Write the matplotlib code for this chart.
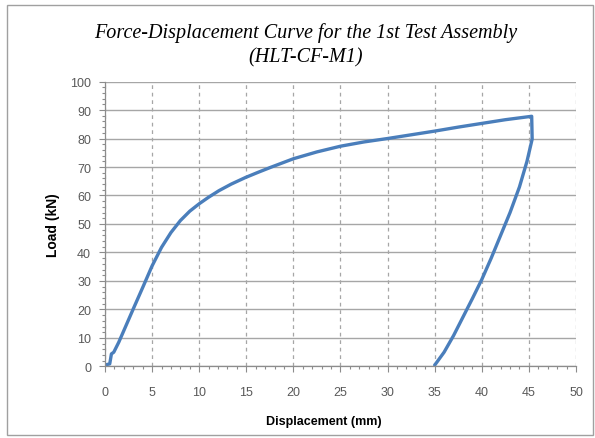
import matplotlib
matplotlib.use("Agg")
import matplotlib.pyplot as plt
from matplotlib.patches import Rectangle
from matplotlib.ticker import MultipleLocator

# loading branch (mm, kN)
disp_load = [0.0, 0.5, 0.68, 0.93, 1.46, 2.0, 3.0, 4.0, 5.0, 6.0, 7.0, 8.0,
             9.0, 10.0, 11.0, 12.1, 13.4, 14.9, 16.3, 17.6, 20.0, 22.5, 25.0,
             27.5, 30.0, 32.5, 35.0, 37.5, 40.0, 42.5, 45.3]
load_load = [0.5, 0.9, 4.4, 5.0, 8.5, 12.6, 20.2, 27.7, 35.3, 41.8, 47.0, 51.2,
             54.5, 57.1, 59.4, 61.7, 64.0, 66.3, 68.2, 69.9, 72.9, 75.3, 77.3,
             78.8, 80.0, 81.3, 82.6, 84.0, 85.3, 86.6, 87.8]

# unloading branch
disp_unload = [45.35, 44.8, 44.0, 43.0, 42.0, 41.0, 40.0, 39.0, 38.0, 37.0,
               36.0, 35.1, 35.0]
load_unload = [79.8, 72.0, 63.0, 54.0, 46.0, 38.0, 30.5, 23.8, 17.3, 10.8,
               5.0, 0.9, 0.5]

disp = disp_load + disp_unload
load = load_load + load_unload

fig = plt.figure(figsize=(5.95, 4.39), dpi=100)
ax = fig.add_axes([0.1765, 0.163, 0.7915, 0.649])

ax.plot(disp, load, color="#4A7EBB", lw=2.4, solid_joinstyle="round",
        solid_capstyle="round")

ax.set_xlim(0, 50)
ax.set_ylim(0, 100)
ax.xaxis.set_major_locator(MultipleLocator(5))
ax.xaxis.set_minor_locator(MultipleLocator(1))
ax.yaxis.set_major_locator(MultipleLocator(10))
ax.yaxis.set_minor_locator(MultipleLocator(2))

ax.grid(axis="y", which="major", color="#A6A6A6", lw=1.0, ls="-")
ax.grid(axis="x", which="major", color="#A6A6A6", lw=0.9, ls=(0, (3, 3)))
ax.set_axisbelow(True)

for s in ["top", "right"]:
    ax.spines[s].set_visible(False)
for s in ["left", "bottom"]:
    ax.spines[s].set_color("#8C8C8C")
    ax.spines[s].set_linewidth(0.9)

ax.tick_params(which="both", direction="out", color="#8C8C8C", width=0.8)
ax.tick_params(which="major", length=4, labelsize=9, labelcolor="#595959")
ax.tick_params(axis="x", which="major", pad=10)
ax.tick_params(axis="y", which="major", pad=6)
ax.tick_params(which="minor", length=2.5)
for lbl in ax.get_xticklabels() + ax.get_yticklabels():
    lbl.set_family("Liberation Sans")

ax.set_xlabel("Displacement (mm)", fontsize=9, fontweight="bold",
              family="Liberation Sans", labelpad=12, x=0.465)
ax.set_ylabel("Load (kN)", fontsize=10, fontweight="bold",
              family="Liberation Sans", labelpad=7)

fig.text(0.513, 0.925, "Force-Displacement Curve for the 1st Test Assembly",
         ha="center", va="center", fontsize=14.5, style="italic",
         family="Liberation Serif")
fig.text(0.513, 0.868, "(HLT-CF-M1)", ha="center", va="center", fontsize=14.5,
         style="italic", family="Liberation Serif")

# outer chart frame
fig.patches.append(Rectangle((0.012, 0.006), 0.984, 0.98, transform=fig.transFigure,
                             fill=False, edgecolor="#A0A0A0", lw=1.0))

fig.savefig("out.png", dpi=100)
